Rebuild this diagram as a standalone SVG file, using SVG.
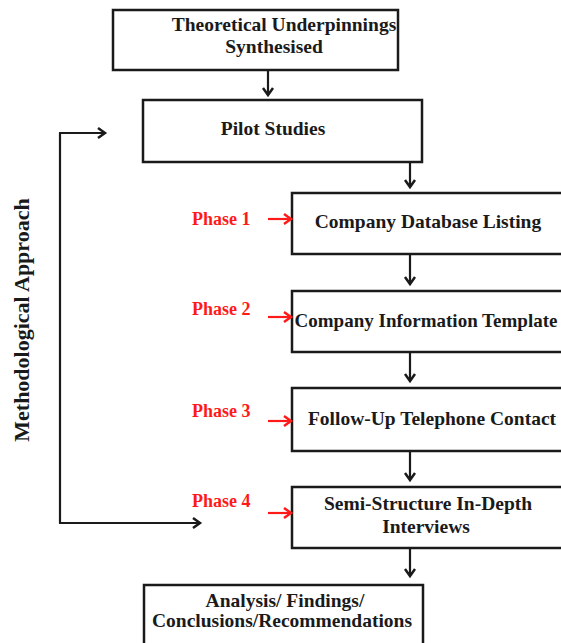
<svg xmlns="http://www.w3.org/2000/svg" width="561" height="643" viewBox="0 0 561 643">
  <style>
    .box { fill: #ffffff; stroke: #1a1a1a; stroke-width: 2.5; }
    .t { font-family: "Liberation Serif", "Times New Roman", serif; font-weight: bold; font-size: 19.5px; fill: #1a1a1a; text-anchor: middle; }
    .ph { font-family: "Liberation Serif", "Times New Roman", serif; font-weight: bold; font-size: 18px; fill: #ff1a1a; }
    .side { font-family: "Liberation Serif", "Times New Roman", serif; font-weight: bold; font-size: 22px; fill: #1a1a1a; text-anchor: middle; }
    .k { fill: none; stroke: #1a1a1a; stroke-width: 2.2; }
    .ka { marker-end: url(#ak); }
    .r { fill: none; stroke: #ff1a1a; stroke-width: 2.2; marker-end: url(#ar); }
  </style>
  <defs>
    <marker id="ak" markerUnits="userSpaceOnUse" viewBox="-10 -7 12 14" refX="0" refY="0" markerWidth="12" markerHeight="14" orient="auto" overflow="visible">
      <path d="M-7,-5 L0,0 L-7,5" fill="none" stroke="#1a1a1a" stroke-width="2.5"/>
    </marker>
    <marker id="ar" markerUnits="userSpaceOnUse" viewBox="-10 -7 12 14" refX="0" refY="0" markerWidth="12" markerHeight="14" orient="auto" overflow="visible">
      <path d="M-7,-5 L0,0 L-7,5" fill="none" stroke="#ff1a1a" stroke-width="2.5"/>
    </marker>
  </defs>

  <g id="theory">
    <rect class="box" x="113" y="10" width="285" height="60"/>
    <text class="t" x="284" y="31">Theoretical Underpinnings</text>
    <text class="t" x="274" y="53">Synthesised</text>
  </g>
  <g id="pilot">
    <rect class="box" x="143" y="100" width="279" height="62"/>
    <text class="t" x="273" y="135">Pilot Studies</text>
  </g>
  <g id="phase1">
    <rect class="box" x="292" y="193" width="272" height="61"/>
    <text class="t" x="428" y="228">Company Database Listing</text>
    <text class="ph" x="192" y="225">Phase 1</text>
  </g>
  <g id="phase2">
    <rect class="box" x="292" y="291" width="272" height="61"/>
    <text class="t" x="426" y="327" style="font-size:19px">Company Information Template</text>
    <text class="ph" x="192" y="315">Phase 2</text>
  </g>
  <g id="phase3">
    <rect class="box" x="292" y="388" width="272" height="63"/>
    <text class="t" x="432" y="425">Follow-Up Telephone Contact</text>
    <text class="ph" x="192" y="417">Phase 3</text>
  </g>
  <g id="phase4">
    <rect class="box" x="292" y="487" width="272" height="61"/>
    <text class="t" x="428" y="510">Semi-Structure In-Depth</text>
    <text class="t" x="426" y="533">Interviews</text>
    <text class="ph" x="192" y="507">Phase 4</text>
  </g>
  <g id="analysis">
    <rect class="box" x="144" y="585" width="279" height="80"/>
    <text class="t" x="285" y="607">Analysis/ Findings/</text>
    <text class="t" x="282" y="627">Conclusions/Recommendations</text>
  </g>
  <g id="side-label">
    <text class="side" transform="translate(29,320) rotate(-90)">Methodological Approach</text>
  </g>

  <g id="connectors">
    <line class="k ka" x1="268" y1="70" x2="268" y2="95"/>
    <line class="k ka" x1="410" y1="162" x2="410" y2="187"/>
    <line class="k ka" x1="410" y1="254" x2="410" y2="284"/>
    <line class="k ka" x1="410" y1="352" x2="410" y2="381"/>
    <line class="k ka" x1="410" y1="451" x2="410" y2="480"/>
    <line class="k ka" x1="410" y1="548" x2="410" y2="576"/>
    <line class="k" x1="60" y1="133" x2="60" y2="523"/>
    <line class="k ka" x1="59" y1="133" x2="105" y2="133"/>
    <line class="k ka" x1="59" y1="523" x2="200" y2="523"/>
    <line class="r" x1="268" y1="219" x2="291" y2="219"/>
    <line class="r" x1="268" y1="317" x2="291" y2="317"/>
    <line class="r" x1="268" y1="421" x2="291" y2="421"/>
    <line class="r" x1="268" y1="513" x2="291" y2="513"/>
  </g>
</svg>
